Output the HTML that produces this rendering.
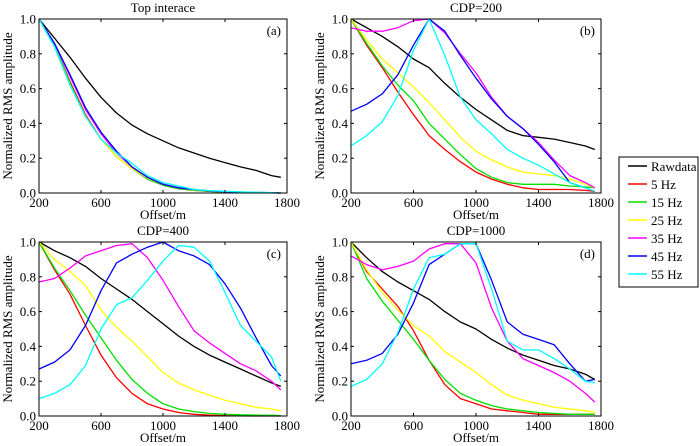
<!DOCTYPE html>
<html><head><meta charset="utf-8"><style>
html,body{margin:0;padding:0;background:#fff;}
svg{display:block;}
svg text{font-family:"Liberation Serif","Times New Roman",serif;}
</style></head><body>
<svg id="chart" width="700" height="446" viewBox="0 0 700 446" xmlns="http://www.w3.org/2000/svg" font-family="Liberation Serif, serif"></svg>
<script>
const xs = [200,300,400,500,600,700,800,900,1000,1100,1200,1300,1400,1500,1600,1700,1760];
const seriesNames = ["Rawdata","5 Hz","15 Hz","25 Hz","35 Hz","45 Hz","55 Hz"];
const seriesColors = ["#000000","#ff0000","#00e000","#ffff00","#ff00ff","#0000ff","#00ffff"];
const xTicks = [200,600,1000,1400,1800];
const yTicks = [0,0.2,0.4,0.6,0.8,1.0];
const yTickLabels = ["0.0","0.2","0.4","0.6","0.8","1.0"];
const panelTitles = ["Top interace","CDP=200","CDP=400","CDP=1000"];
const panelTags = ["(a)","(b)","(c)","(d)"];

const aRaw = [1,0.89,0.78,0.66,0.55,0.46,0.39,0.34,0.30,0.26,0.23,0.20,0.175,0.15,0.13,0.10,0.09];
const a5 = [1,0.85,0.64,0.45,0.31,0.21,0.14,0.08,0.045,0.025,0.015,0.01,0.006,0.004,0.002,0.001,0];
const a15 = [1,0.85,0.63,0.44,0.31,0.21,0.14,0.08,0.045,0.025,0.015,0.01,0.006,0.004,0.002,0.001,0];
const a25 = [1,0.84,0.62,0.44,0.31,0.21,0.14,0.085,0.05,0.03,0.018,0.012,0.008,0.005,0.003,0.002,0];
const a35 = [1,0.86,0.67,0.48,0.34,0.23,0.15,0.09,0.05,0.03,0.02,0.012,0.008,0.005,0.003,0.002,0];
const a45 = [1,0.86,0.68,0.49,0.35,0.24,0.15,0.09,0.05,0.03,0.02,0.012,0.008,0.005,0.003,0.002,0];
const a55 = [1,0.84,0.62,0.44,0.31,0.23,0.17,0.10,0.06,0.04,0.02,0.014,0.01,0.007,0.004,0.002,0];

const bRaw = [1,0.95,0.90,0.84,0.77,0.72,0.63,0.55,0.48,0.42,0.36,0.33,0.32,0.31,0.29,0.27,0.25];
const b5 = [1,0.85,0.72,0.58,0.45,0.33,0.25,0.18,0.12,0.08,0.05,0.03,0.02,0.02,0.02,0.015,0.01];
const b15 = [1,0.86,0.73,0.62,0.53,0.40,0.31,0.22,0.14,0.09,0.06,0.05,0.05,0.05,0.04,0.035,0.03];
const b25 = [1,0.88,0.77,0.69,0.61,0.52,0.42,0.32,0.24,0.19,0.15,0.12,0.11,0.10,0.08,0.05,0.03];
const b35 = [0.95,0.93,0.93,0.95,0.99,1.0,0.92,0.80,0.69,0.55,0.44,0.37,0.29,0.19,0.10,0.06,0.03];
const b45 = [0.47,0.51,0.57,0.68,0.85,1.0,0.93,0.79,0.66,0.54,0.44,0.37,0.28,0.18,0.06,0.03,0.01];
const b55 = [0.27,0.33,0.41,0.56,0.82,1.0,0.79,0.55,0.42,0.34,0.25,0.20,0.16,0.11,0.06,0.03,0.01];

const cRaw = [1,0.95,0.91,0.86,0.79,0.73,0.67,0.60,0.53,0.46,0.40,0.35,0.31,0.27,0.23,0.19,0.17];
const c5 = [1,0.84,0.70,0.52,0.35,0.22,0.13,0.07,0.04,0.02,0.01,0.005,0.002,0.001,0,0,0];
const c15 = [1,0.85,0.72,0.58,0.45,0.32,0.21,0.13,0.07,0.04,0.025,0.015,0.01,0.007,0.005,0.004,0.003];
const c25 = [1,0.90,0.83,0.75,0.61,0.51,0.43,0.34,0.25,0.19,0.15,0.12,0.09,0.07,0.05,0.04,0.03];
const c35 = [0.77,0.79,0.85,0.92,0.95,0.98,0.99,0.91,0.78,0.63,0.49,0.42,0.36,0.30,0.26,0.20,0.15];
const c45 = [0.27,0.31,0.38,0.52,0.72,0.88,0.93,0.97,1.0,0.95,0.92,0.87,0.76,0.62,0.45,0.29,0.23];
const c55 = [0.10,0.13,0.18,0.29,0.50,0.64,0.68,0.78,0.89,0.98,0.97,0.89,0.71,0.52,0.43,0.34,0.20];

const dRaw = [1,0.91,0.83,0.77,0.72,0.67,0.60,0.54,0.50,0.44,0.39,0.35,0.32,0.29,0.27,0.24,0.21];
const d5 = [1,0.83,0.73,0.63,0.49,0.32,0.18,0.10,0.07,0.04,0.03,0.02,0.01,0.01,0.01,0.01,0.01];
const d15 = [1,0.79,0.66,0.55,0.44,0.32,0.21,0.13,0.09,0.06,0.04,0.03,0.02,0.015,0.01,0.01,0.01];
const d25 = [1,0.84,0.71,0.61,0.52,0.46,0.37,0.31,0.25,0.18,0.12,0.09,0.07,0.05,0.04,0.03,0.02];
const d35 = [0.92,0.87,0.84,0.86,0.89,0.96,0.99,0.99,0.88,0.62,0.43,0.33,0.29,0.25,0.20,0.13,0.08];
const d45 = [0.30,0.32,0.36,0.47,0.65,0.87,0.93,0.99,0.99,0.78,0.54,0.47,0.44,0.41,0.30,0.20,0.21];
const d55 = [0.17,0.21,0.30,0.48,0.73,0.91,0.93,0.99,0.99,0.73,0.43,0.38,0.38,0.33,0.27,0.20,0.19];

const panelSeries = [
  [aRaw,a5,a15,a25,a35,a45,a55],
  [bRaw,b5,b15,b25,b35,b45,b55],
  [cRaw,c5,c15,c25,c35,c45,c55],
  [dRaw,d5,d15,d25,d35,d45,d55]
];
const panelBoxes = [
  {l:39,r:287,t:19,b:193},
  {l:351,r:601,t:19,b:193},
  {l:39,r:287,t:242,b:416},
  {l:351,r:601,t:242,b:416}
];

const NS = "http://www.w3.org/2000/svg";
const FONT = "Liberation Serif, Times New Roman, serif";
const svg = document.getElementById("chart");
function mk(tag, attrs, parent, text){
  const e = document.createElementNS(NS, tag);
  for (const k in attrs) e.setAttribute(k, attrs[k]);
  if (tag === "text") e.setAttribute("font-family", FONT);
  if (text !== undefined) e.textContent = text;
  (parent||svg).appendChild(e);
  return e;
}

panelBoxes.forEach((bx, pi) => {
  const g = mk("g", {});
  
  
  const xScale = v => bx.l + (v - 200) / 1600 * (bx.r - bx.l);
  const yScale = v => bx.b - v * (bx.b - bx.t);

  panelSeries[pi].forEach((vals, si) => {
    const pts = xs.map((x, i) => xScale(x).toFixed(1) + "," + yScale(vals[i]).toFixed(1)).join(" ");
    const pl = mk("polyline", {points: pts, fill: "none", stroke: seriesColors[si], "stroke-width": 1.3, "stroke-linejoin": "round"}, g);
    
    
  });

  const fr = mk("rect", {x: bx.l, y: bx.t, width: bx.r - bx.l, height: bx.b - bx.t, fill: "none", stroke: "#000", "stroke-width": 1}, g);
  
  

  xTicks.forEach(t => {
    const x = xScale(t);
    mk("line", {x1: x, x2: x, y1: bx.b, y2: bx.b - 3, stroke: "#000"}, g);
    mk("line", {x1: x, x2: x, y1: bx.t, y2: bx.t + 3, stroke: "#000"}, g);
    const tl = mk("text", {x: x, y: bx.b + 14, "text-anchor": "middle", "font-size": 13}, g, String(t));
    
    
  });
  yTicks.forEach((t, i) => {
    const y = yScale(t);
    mk("line", {x1: bx.l, x2: bx.l + 3, y1: y, y2: y, stroke: "#000"}, g);
    mk("line", {x1: bx.r, x2: bx.r - 3, y1: y, y2: y, stroke: "#000"}, g);
    const tl = mk("text", {x: bx.l - 3, y: y + 4.5, "text-anchor": "end", "font-size": 13}, g, yTickLabels[i]);
    
    
  });
  const cx = (bx.l + bx.r) / 2;
  const ti = mk("text", {x: cx, y: bx.t - 7, "text-anchor": "middle", "font-size": 13}, g, panelTitles[pi]);
  
  
  const tg = mk("text", {x: bx.r - 6, y: bx.t + 16, "text-anchor": "end", "font-size": 13}, g, panelTags[pi]);
  
  
  const xl = mk("text", {x: cx, y: bx.b + 26, "text-anchor": "middle", "font-size": 13}, g, "Offset/m");
  
  
  const yx = bx.l - 27, yy = (bx.t + bx.b) / 2;
  const yl = mk("text", {x: yx, y: yy, "text-anchor": "middle", "font-size": 13, transform: "rotate(-90 " + yx + " " + yy + ")"}, g, "Normalized RMS amplitude");
  
  
});

const lg = mk("g", {});


mk("rect", {x: 619, y: 157, width: 79, height: 130, fill: "#fff", stroke: "#000", "stroke-width": 1}, lg);
seriesNames.forEach((n, i) => {
  const y = 166 + i * 18;
  const e = mk("g", {}, lg);
  
  
  mk("line", {x1: 628, x2: 647, y1: y, y2: y, stroke: seriesColors[i], "stroke-width": 1.5}, e);
  mk("text", {x: 651, y: y + 5, "font-size": 13}, e, n);
});
</script>
</body></html>
